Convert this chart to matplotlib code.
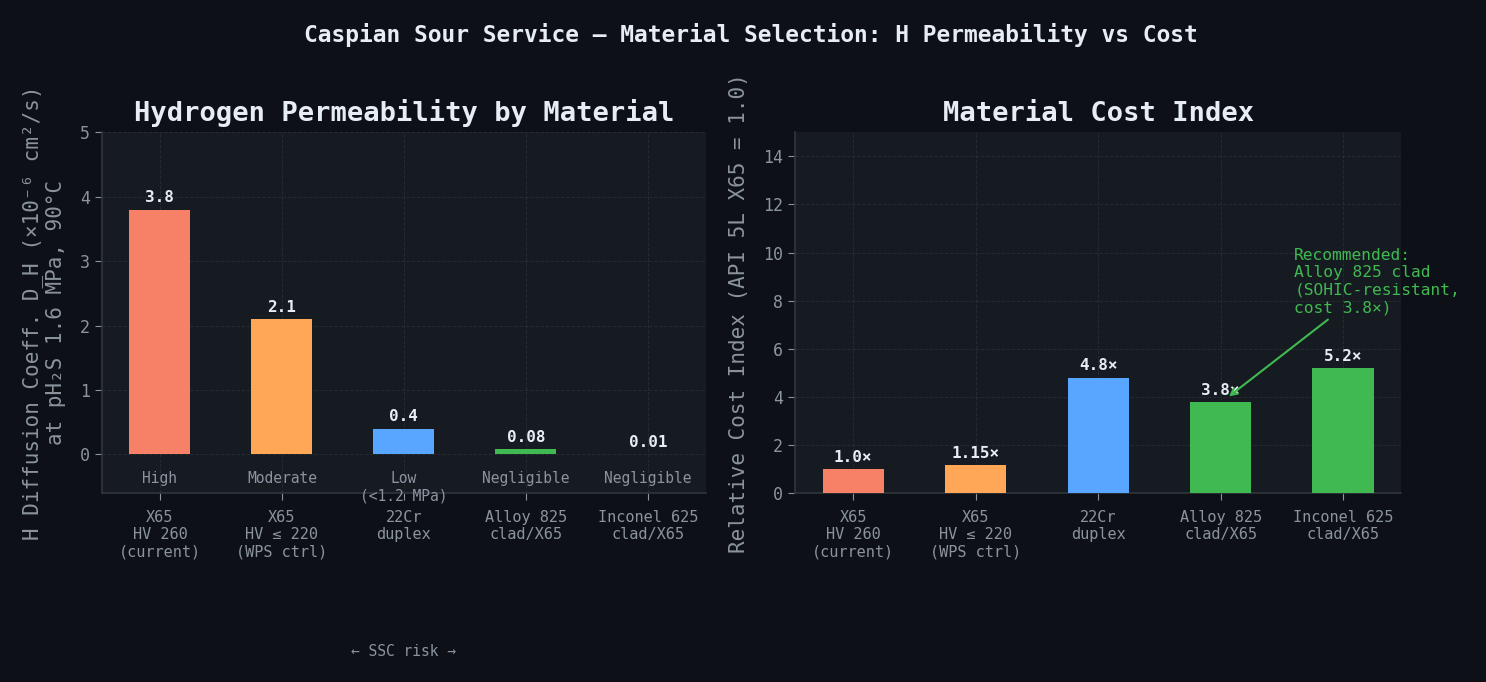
import matplotlib
matplotlib.use("Agg")
import matplotlib.pyplot as plt

plt.rcParams['font.family'] = ['DejaVu Sans Mono', 'DejaVu Sans']

# data
materials = ["X65\nHV 260\n(current)", "X65\nHV \u2264 220\n(WPS ctrl)", "22Cr\nduplex",
             "Alloy 825\nclad/X65", "Inconel 625\nclad/X65"]
perm = [3.8, 2.1, 0.4, 0.08, 0.01]
perm_labels = ["3.8", "2.1", "0.4", "0.08", "0.01"]
risk = ["High", "Moderate", "Low\n(<1.2 MPa)", "Negligible", "Negligible"]
cost = [1.0, 1.15, 4.8, 3.8, 5.2]
cost_labels = ["1.0\u00d7", "1.15\u00d7", "4.8\u00d7", "3.8\u00d7", "5.2\u00d7"]
colors = ["#f78166", "#ffa657", "#58a6ff", "#3fb950", "#3fb950"]

BG = "#0d1117"
FACE = "#161b22"
TXT = "#e6edf3"
MUTED = "#8b949e"
EDGE = "#30363d"

fig = plt.figure(figsize=(14.86, 6.82), dpi=100, facecolor=BG)
ax1 = fig.add_axes([0.0686, 0.277, 0.4064, 0.529])
ax2 = fig.add_axes([0.535, 0.277, 0.408, 0.529])

x = list(range(len(materials)))

def style(ax):
    ax.set_facecolor(FACE)
    for s in ["top", "right"]:
        ax.spines[s].set_visible(False)
    for s in ["left", "bottom"]:
        ax.spines[s].set_color(EDGE)
        ax.spines[s].set_linewidth(1.2)
    ax.grid(True, color=EDGE, linestyle="--", linewidth=0.7, alpha=0.6)
    ax.set_axisbelow(True)
    ax.tick_params(axis="y", colors=MUTED, labelsize=12, length=5)
    ax.tick_params(axis="x", colors=MUTED, labelsize=11, length=5, pad=7)
    ax.set_xticks(x)
    ax.set_xticklabels(materials)

# left: permeability
style(ax1)
ax1.bar(x, perm, width=0.5, color=colors, zorder=3)
for xi, v, lab in zip(x, perm, perm_labels):
    ax1.annotate(lab, (xi, v), xytext=(0, 3), textcoords="offset points",
                 ha="center", va="bottom", color=TXT, fontsize=11.5, fontweight="bold")
for xi, r in zip(x, risk):
    ax1.text(xi, -0.26, r, ha="center", va="top", color=MUTED, fontsize=10.5)
ax1.set_ylim(-0.6, 5)
ax1.set_yticks([0, 1, 2, 3, 4, 5])
ax1.set_title("Hydrogen Permeability by Material", color=TXT, fontsize=19.5,
              fontweight="bold", pad=8)
ax1.set_ylabel("H Diffusion Coeff. D_H (\u00d710\u207b\u2076 cm\u00b2/s)\nat pH\u2082S 1.6 MPa, 90\u00b0C",
               color=MUTED, fontsize=15, labelpad=10)
ax1.text(2, -0.44, "\u2190 SSC risk \u2192", transform=ax1.get_xaxis_transform(),
         ha="center", va="center", color=MUTED, fontsize=10.5)

# right: cost
style(ax2)
ax2.bar(x, cost, width=0.5, color=colors, zorder=3)
for xi, v, lab in zip(x, cost, cost_labels):
    ax2.annotate(lab, (xi, v), xytext=(0, 3), textcoords="offset points",
                 ha="center", va="bottom", color=TXT, fontsize=11.5, fontweight="bold")
ax2.set_ylim(0, 15)
ax2.set_yticks([0, 2, 4, 6, 8, 10, 12, 14])
ax2.set_title("Material Cost Index", color=TXT, fontsize=19.5, fontweight="bold", pad=8)
ax2.set_ylabel("Relative Cost Index (API 5L X65 = 1.0)", color=MUTED, fontsize=15,
               labelpad=10)
ax2.annotate("Recommended:\nAlloy 825 clad\n(SOHIC-resistant,\ncost 3.8\u00d7)",
             xy=(3.05, 3.95), xytext=(3.6, 7.4), ha="left", va="bottom",
             color="#3fb950", fontsize=11.7,
             arrowprops=dict(arrowstyle="->", color="#3fb950", lw=1.5))

fig.suptitle("Caspian Sour Service \u2014 Material Selection: H Permeability vs Cost",
             color=TXT, fontsize=16.5, fontweight="bold", x=0.505, y=0.966)

fig.savefig("out.png", dpi=100, facecolor=BG)
